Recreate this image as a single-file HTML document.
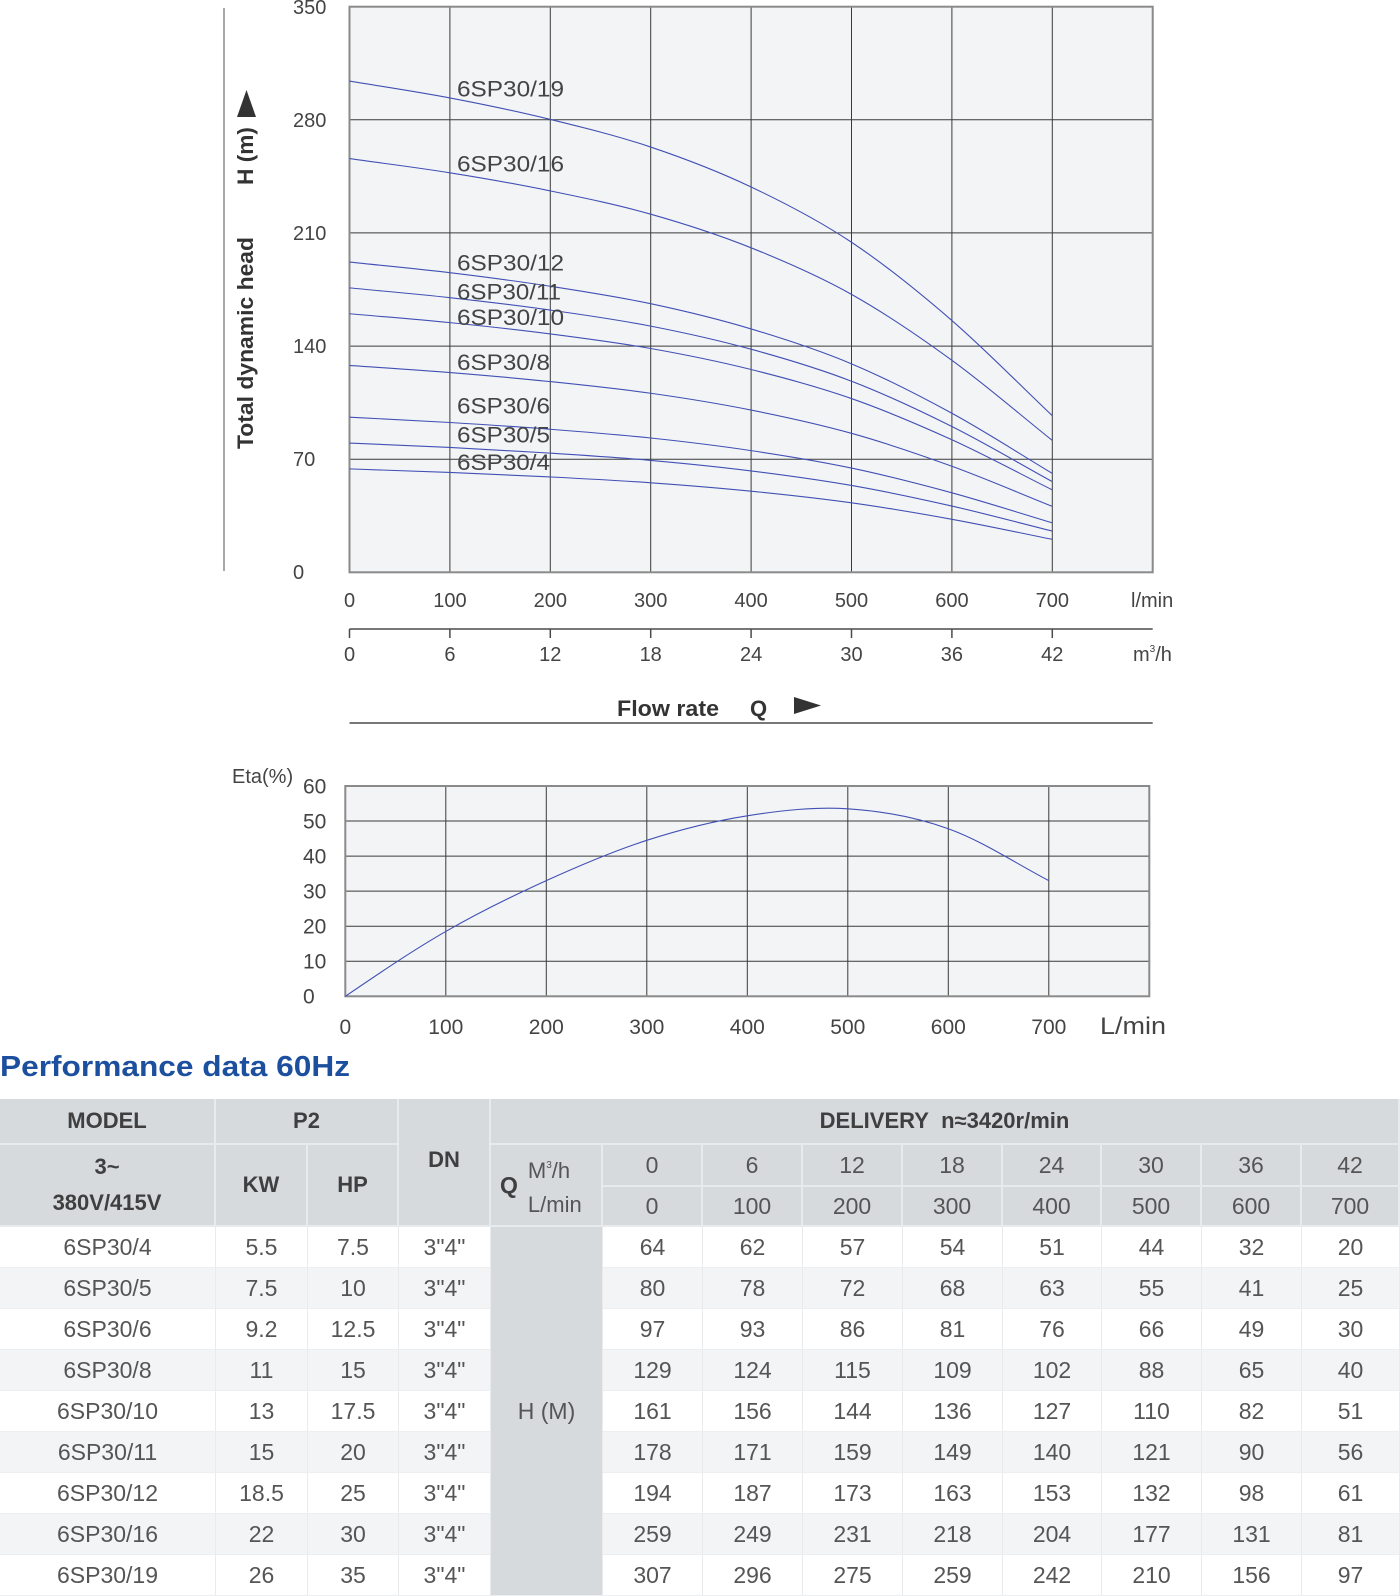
<!DOCTYPE html>
<html>
<head>
<meta charset="utf-8">
<style>
  html,body{margin:0;padding:0;background:#fff;}
  body{width:1400px;height:1596px;position:relative;overflow:hidden;font-family:"Liberation Sans",Arial,sans-serif;}
  svg{position:absolute;left:0;top:0;}
  .tbl{position:absolute;left:0;top:1099px;width:1400px;display:grid;
    grid-template-columns:216px 92px 91px 92px 112px 100px 100px 100px 100px 99px 100px 100px 98px;
    grid-template-rows:46px 42px 40px repeat(9,41px);}
  .c{box-sizing:border-box;display:flex;align-items:center;justify-content:center;
    border-right:1px solid #e9ebed;border-bottom:1px solid #eceef0;background:#fff;
    font-size:23px;color:#555;white-space:nowrap;}
  .h{background:#d6dadd;font-weight:bold;color:#3f3f3f;font-size:22px;
    border-right:2px solid #e8ebed;border-bottom:2px solid #e8ebed;}
  .hn{background:#d6dadd;color:#555;font-size:23px;font-weight:normal;
    border-right:2px solid #e8ebed;border-bottom:2px solid #e8ebed;}
  .r{display:contents;}
  .g>.c{background:#f3f4f5;}
  .hm{background:#d6dadd !important;border-right:1px solid #e9ebed;}
</style>
</head>
<body>
<svg width="1400" height="1099" viewBox="0 0 1400 1099" font-family="Liberation Sans, Arial, sans-serif">
  <!-- ===== HEAD CHART ===== -->
  <line x1="224" y1="8" x2="224" y2="571" stroke="#8c8c8c" stroke-width="1.5"/>
  <text transform="translate(253,343) rotate(-90)" text-anchor="middle" font-size="22" font-weight="bold" fill="#333" textLength="212" lengthAdjust="spacingAndGlyphs">Total dynamic head</text>
  <text transform="translate(253,156) rotate(-90)" text-anchor="middle" font-size="22" font-weight="bold" fill="#333" textLength="58" lengthAdjust="spacingAndGlyphs">H (m)</text>
  <polygon points="246.5,90 237,117 256,117" fill="#333"/>

  <rect x="349.5" y="6.7" width="803.2" height="565.6" fill="#f3f4f6"/>
  <g stroke="#3a3a3a" stroke-width="1">
    <line x1="449.9" y1="6.7" x2="449.9" y2="572.3"/>
    <line x1="550.3" y1="6.7" x2="550.3" y2="572.3"/>
    <line x1="650.7" y1="6.7" x2="650.7" y2="572.3"/>
    <line x1="751.1" y1="6.7" x2="751.1" y2="572.3"/>
    <line x1="851.5" y1="6.7" x2="851.5" y2="572.3"/>
    <line x1="951.9" y1="6.7" x2="951.9" y2="572.3"/>
    <line x1="1052.3" y1="6.7" x2="1052.3" y2="572.3"/>
    <line x1="349.5" y1="119.8" x2="1152.7" y2="119.8"/>
    <line x1="349.5" y1="232.9" x2="1152.7" y2="232.9"/>
    <line x1="349.5" y1="346.1" x2="1152.7" y2="346.1"/>
    <line x1="349.5" y1="459.2" x2="1152.7" y2="459.2"/>
  </g>
  <rect x="349.5" y="6.7" width="803.2" height="565.6" fill="none" stroke="#8a8a8a" stroke-width="2"/>

  <g fill="none" stroke="#4150b5" stroke-width="1.1">
    <path vector-effect="non-scaling-stroke" transform="translate(349.5 572.3) scale(1.004 6.464)" d="M0,-16 C33.33,-15.817 66.67,-15.658 100,-15.45 C133.33,-15.242 166.67,-15.017 200,-14.75 C233.33,-14.483 266.67,-14.217 300,-13.85 C333.33,-13.483 366.67,-13.067 400,-12.55 C433.33,-12.033 466.67,-11.475 500,-10.75 C533.33,-10.025 566.67,-9.142 600,-8.2 C633.33,-7.258 666.67,-6.133 700,-5.1"/>
    <path vector-effect="non-scaling-stroke" transform="translate(349.5 572.3) scale(1.004 8.08)" d="M0,-16 C33.33,-15.817 66.67,-15.658 100,-15.45 C133.33,-15.242 166.67,-15.017 200,-14.75 C233.33,-14.483 266.67,-14.217 300,-13.85 C333.33,-13.483 366.67,-13.067 400,-12.55 C433.33,-12.033 466.67,-11.475 500,-10.75 C533.33,-10.025 566.67,-9.142 600,-8.2 C633.33,-7.258 666.67,-6.133 700,-5.1"/>
    <path vector-effect="non-scaling-stroke" transform="translate(349.5 572.3) scale(1.004 9.696)" d="M0,-16 C33.33,-15.817 66.67,-15.658 100,-15.45 C133.33,-15.242 166.67,-15.017 200,-14.75 C233.33,-14.483 266.67,-14.217 300,-13.85 C333.33,-13.483 366.67,-13.067 400,-12.55 C433.33,-12.033 466.67,-11.475 500,-10.75 C533.33,-10.025 566.67,-9.142 600,-8.2 C633.33,-7.258 666.67,-6.133 700,-5.1"/>
    <path vector-effect="non-scaling-stroke" transform="translate(349.5 572.3) scale(1.004 12.928)" d="M0,-16 C33.33,-15.817 66.67,-15.658 100,-15.45 C133.33,-15.242 166.67,-15.017 200,-14.75 C233.33,-14.483 266.67,-14.217 300,-13.85 C333.33,-13.483 366.67,-13.067 400,-12.55 C433.33,-12.033 466.67,-11.475 500,-10.75 C533.33,-10.025 566.67,-9.142 600,-8.2 C633.33,-7.258 666.67,-6.133 700,-5.1"/>
    <path vector-effect="non-scaling-stroke" transform="translate(349.5 572.3) scale(1.004 16.16)" d="M0,-16 C33.33,-15.817 66.67,-15.658 100,-15.45 C133.33,-15.242 166.67,-15.017 200,-14.75 C233.33,-14.483 266.67,-14.217 300,-13.85 C333.33,-13.483 366.67,-13.067 400,-12.55 C433.33,-12.033 466.67,-11.475 500,-10.75 C533.33,-10.025 566.67,-9.142 600,-8.2 C633.33,-7.258 666.67,-6.133 700,-5.1"/>
    <path vector-effect="non-scaling-stroke" transform="translate(349.5 572.3) scale(1.004 17.776)" d="M0,-16 C33.33,-15.817 66.67,-15.658 100,-15.45 C133.33,-15.242 166.67,-15.017 200,-14.75 C233.33,-14.483 266.67,-14.217 300,-13.85 C333.33,-13.483 366.67,-13.067 400,-12.55 C433.33,-12.033 466.67,-11.475 500,-10.75 C533.33,-10.025 566.67,-9.142 600,-8.2 C633.33,-7.258 666.67,-6.133 700,-5.1"/>
    <path vector-effect="non-scaling-stroke" transform="translate(349.5 572.3) scale(1.004 19.392)" d="M0,-16 C33.33,-15.817 66.67,-15.658 100,-15.45 C133.33,-15.242 166.67,-15.017 200,-14.75 C233.33,-14.483 266.67,-14.217 300,-13.85 C333.33,-13.483 366.67,-13.067 400,-12.55 C433.33,-12.033 466.67,-11.475 500,-10.75 C533.33,-10.025 566.67,-9.142 600,-8.2 C633.33,-7.258 666.67,-6.133 700,-5.1"/>
    <path vector-effect="non-scaling-stroke" transform="translate(349.5 572.3) scale(1.004 25.856)" d="M0,-16 C33.33,-15.817 66.67,-15.658 100,-15.45 C133.33,-15.242 166.67,-15.017 200,-14.75 C233.33,-14.483 266.67,-14.217 300,-13.85 C333.33,-13.483 366.67,-13.067 400,-12.55 C433.33,-12.033 466.67,-11.475 500,-10.75 C533.33,-10.025 566.67,-9.142 600,-8.2 C633.33,-7.258 666.67,-6.133 700,-5.1"/>
    <path vector-effect="non-scaling-stroke" transform="translate(349.5 572.3) scale(1.004 30.704)" d="M0,-16 C33.33,-15.817 66.67,-15.658 100,-15.45 C133.33,-15.242 166.67,-15.017 200,-14.75 C233.33,-14.483 266.67,-14.217 300,-13.85 C333.33,-13.483 366.67,-13.067 400,-12.55 C433.33,-12.033 466.67,-11.475 500,-10.75 C533.33,-10.025 566.67,-9.142 600,-8.2 C633.33,-7.258 666.67,-6.133 700,-5.1"/>
  </g>

  <g font-size="22" fill="#444">
    <text x="457" y="96.7" textLength="107" lengthAdjust="spacingAndGlyphs">6SP30/19</text>
    <text x="457" y="171.7" textLength="107" lengthAdjust="spacingAndGlyphs">6SP30/16</text>
    <text x="457" y="270.7" textLength="107" lengthAdjust="spacingAndGlyphs">6SP30/12</text>
    <text x="457" y="299.3" textLength="104" lengthAdjust="spacingAndGlyphs">6SP30/11</text>
    <text x="457" y="325" textLength="107" lengthAdjust="spacingAndGlyphs">6SP30/10</text>
    <text x="457" y="370" textLength="93" lengthAdjust="spacingAndGlyphs">6SP30/8</text>
    <text x="457" y="413.3" textLength="93" lengthAdjust="spacingAndGlyphs">6SP30/6</text>
    <text x="457" y="442.3" textLength="93" lengthAdjust="spacingAndGlyphs">6SP30/5</text>
    <text x="457" y="470" textLength="93" lengthAdjust="spacingAndGlyphs">6SP30/4</text>
  </g>

  <g font-size="20" fill="#444">
    <text x="293" y="14">350</text>
    <text x="293" y="127">280</text>
    <text x="293" y="240">210</text>
    <text x="293" y="353">140</text>
    <text x="293" y="466">70</text>
    <text x="293" y="579">0</text>
  </g>

  <g font-size="20" fill="#444" text-anchor="middle">
    <text x="349.5" y="607">0</text>
    <text x="449.9" y="607">100</text>
    <text x="550.3" y="607">200</text>
    <text x="650.7" y="607">300</text>
    <text x="751.1" y="607">400</text>
    <text x="851.5" y="607">500</text>
    <text x="951.9" y="607">600</text>
    <text x="1052.3" y="607">700</text>
    <text x="349.5" y="661">0</text>
    <text x="449.9" y="661">6</text>
    <text x="550.3" y="661">12</text>
    <text x="650.7" y="661">18</text>
    <text x="751.1" y="661">24</text>
    <text x="851.5" y="661">30</text>
    <text x="951.9" y="661">36</text>
    <text x="1052.3" y="661">42</text>
  </g>
  <text x="1131" y="607" font-size="20" fill="#444">l/min</text>
  <text x="1133" y="661" font-size="20" fill="#444">m<tspan font-size="10" dy="-9">3</tspan><tspan dy="9">/h</tspan></text>

  <g stroke="#4a4a4a" stroke-width="1.5">
    <line x1="349.5" y1="629" x2="1152.7" y2="629"/>
    <line x1="349.5" y1="629" x2="349.5" y2="638"/>
    <line x1="449.9" y1="629" x2="449.9" y2="638"/>
    <line x1="550.3" y1="629" x2="550.3" y2="638"/>
    <line x1="650.7" y1="629" x2="650.7" y2="638"/>
    <line x1="751.1" y1="629" x2="751.1" y2="638"/>
    <line x1="851.5" y1="629" x2="851.5" y2="638"/>
    <line x1="951.9" y1="629" x2="951.9" y2="638"/>
    <line x1="1052.3" y1="629" x2="1052.3" y2="638"/>
    <line x1="349.5" y1="723" x2="1152.7" y2="723"/>
  </g>
  <text x="617" y="716" font-size="22" font-weight="bold" fill="#333" textLength="102" lengthAdjust="spacingAndGlyphs">Flow rate</text>
  <text x="750" y="716" font-size="22" font-weight="bold" fill="#333">Q</text>
  <polygon points="794,697 794,714 821,705.5" fill="#333"/>

  <!-- ===== ETA CHART ===== -->
  <text x="232" y="783" font-size="20" fill="#444">Eta(%)</text>
  <rect x="345.3" y="786" width="804" height="210.3" fill="#f3f4f6"/>
  <g stroke="#3a3a3a" stroke-width="1">
    <line x1="445.8" y1="786" x2="445.8" y2="996.3"/>
    <line x1="546.3" y1="786" x2="546.3" y2="996.3"/>
    <line x1="646.8" y1="786" x2="646.8" y2="996.3"/>
    <line x1="747.3" y1="786" x2="747.3" y2="996.3"/>
    <line x1="847.8" y1="786" x2="847.8" y2="996.3"/>
    <line x1="948.3" y1="786" x2="948.3" y2="996.3"/>
    <line x1="1048.8" y1="786" x2="1048.8" y2="996.3"/>
    <line x1="345.3" y1="821.05" x2="1149.3" y2="821.05"/>
    <line x1="345.3" y1="856.1" x2="1149.3" y2="856.1"/>
    <line x1="345.3" y1="891.15" x2="1149.3" y2="891.15"/>
    <line x1="345.3" y1="926.2" x2="1149.3" y2="926.2"/>
    <line x1="345.3" y1="961.25" x2="1149.3" y2="961.25"/>
  </g>
  <rect x="345.3" y="786" width="804" height="210.3" fill="none" stroke="#8a8a8a" stroke-width="2"/>
  <path fill="none" stroke="#4150b5" stroke-width="1.1" vector-effect="non-scaling-stroke" transform="translate(345.3 996.3) scale(1.005 3.505)" d="M0,0 C33.33,-6.5 66.67,-13 100,-18.5 C133.33,-24 166.67,-28.667 200,-33 C233.33,-37.333 266.67,-41.417 300,-44.5 C333.33,-47.583 366.67,-50 400,-51.5 C433.33,-53 466.67,-54.117 500,-53.5 C533.33,-52.883 566.67,-51.217 600,-47.8 C633.33,-44.383 666.67,-38 700,-33"/>

  <g font-size="21" fill="#444">
    <text x="303" y="793.5">60</text>
    <text x="303" y="828.5">50</text>
    <text x="303" y="863.5">40</text>
    <text x="303" y="898.5">30</text>
    <text x="303" y="933.5">20</text>
    <text x="303" y="968.5">10</text>
    <text x="303" y="1003.5">0</text>
  </g>
  <g font-size="21" fill="#444" text-anchor="middle">
    <text x="345.3" y="1034">0</text>
    <text x="445.8" y="1034">100</text>
    <text x="546.3" y="1034">200</text>
    <text x="646.8" y="1034">300</text>
    <text x="747.3" y="1034">400</text>
    <text x="847.8" y="1034">500</text>
    <text x="948.3" y="1034">600</text>
    <text x="1048.8" y="1034">700</text>
  </g>
  <text x="1100" y="1034" font-size="24" fill="#444" textLength="66" lengthAdjust="spacingAndGlyphs">L/min</text>

  <!-- ===== TITLE ===== -->
  <text x="0" y="1076" font-size="29" font-weight="bold" fill="#1d4f9f" textLength="350" lengthAdjust="spacingAndGlyphs">Performance data 60Hz</text>
</svg>

<div class="tbl">
  <!-- header row 1 -->
  <div class="c h">MODEL</div>
  <div class="c h" style="grid-column:span 2">P2</div>
  <div class="c h" style="grid-row:span 3;padding-bottom:4px">DN</div>
  <div class="c h" style="grid-column:span 9">DELIVERY&nbsp;&nbsp;n≈3420r/min</div>
  <!-- header row 2 -->
  <div class="c h" style="grid-row:span 2;flex-direction:column;line-height:36px;text-align:center">
    <span style="display:block;text-align:center">3~</span>
    <span style="display:block;text-align:center">380V/415V</span>
  </div>
  <div class="c h" style="grid-row:span 2">KW</div>
  <div class="c h" style="grid-row:span 2">HP</div>
  <div class="c h" style="grid-row:span 2;justify-content:flex-start;padding-left:9px">
    <span style="font-size:23px;margin-right:10px">Q</span>
    <span style="display:flex;flex-direction:column;line-height:34px;font-weight:normal;color:#555;font-size:22px">
      <span>M<sup style="font-size:10px;vertical-align:10px">3</sup>/h</span><span>L/min</span>
    </span>
  </div>
  <div class="c hn">0</div><div class="c hn">6</div><div class="c hn">12</div><div class="c hn">18</div><div class="c hn">24</div><div class="c hn">30</div><div class="c hn">36</div><div class="c hn">42</div>
  <!-- header row 3 -->
  <div class="c hn">0</div><div class="c hn">100</div><div class="c hn">200</div><div class="c hn">300</div><div class="c hn">400</div><div class="c hn">500</div><div class="c hn">600</div><div class="c hn">700</div>

  <!-- data -->
  <div class="r">
    <div class="c">6SP30/4</div><div class="c">5.5</div><div class="c">7.5</div><div class="c">3"4"</div>
    <div class="c hm" style="grid-row:span 9">H (M)</div>
    <div class="c">64</div><div class="c">62</div><div class="c">57</div><div class="c">54</div><div class="c">51</div><div class="c">44</div><div class="c">32</div><div class="c">20</div>
  </div>
  <div class="r g">
    <div class="c">6SP30/5</div><div class="c">7.5</div><div class="c">10</div><div class="c">3"4"</div>
    <div class="c">80</div><div class="c">78</div><div class="c">72</div><div class="c">68</div><div class="c">63</div><div class="c">55</div><div class="c">41</div><div class="c">25</div>
  </div>
  <div class="r">
    <div class="c">6SP30/6</div><div class="c">9.2</div><div class="c">12.5</div><div class="c">3"4"</div>
    <div class="c">97</div><div class="c">93</div><div class="c">86</div><div class="c">81</div><div class="c">76</div><div class="c">66</div><div class="c">49</div><div class="c">30</div>
  </div>
  <div class="r g">
    <div class="c">6SP30/8</div><div class="c">11</div><div class="c">15</div><div class="c">3"4"</div>
    <div class="c">129</div><div class="c">124</div><div class="c">115</div><div class="c">109</div><div class="c">102</div><div class="c">88</div><div class="c">65</div><div class="c">40</div>
  </div>
  <div class="r">
    <div class="c">6SP30/10</div><div class="c">13</div><div class="c">17.5</div><div class="c">3"4"</div>
    <div class="c">161</div><div class="c">156</div><div class="c">144</div><div class="c">136</div><div class="c">127</div><div class="c">110</div><div class="c">82</div><div class="c">51</div>
  </div>
  <div class="r g">
    <div class="c">6SP30/11</div><div class="c">15</div><div class="c">20</div><div class="c">3"4"</div>
    <div class="c">178</div><div class="c">171</div><div class="c">159</div><div class="c">149</div><div class="c">140</div><div class="c">121</div><div class="c">90</div><div class="c">56</div>
  </div>
  <div class="r">
    <div class="c">6SP30/12</div><div class="c">18.5</div><div class="c">25</div><div class="c">3"4"</div>
    <div class="c">194</div><div class="c">187</div><div class="c">173</div><div class="c">163</div><div class="c">153</div><div class="c">132</div><div class="c">98</div><div class="c">61</div>
  </div>
  <div class="r g">
    <div class="c">6SP30/16</div><div class="c">22</div><div class="c">30</div><div class="c">3"4"</div>
    <div class="c">259</div><div class="c">249</div><div class="c">231</div><div class="c">218</div><div class="c">204</div><div class="c">177</div><div class="c">131</div><div class="c">81</div>
  </div>
  <div class="r">
    <div class="c">6SP30/19</div><div class="c">26</div><div class="c">35</div><div class="c">3"4"</div>
    <div class="c">307</div><div class="c">296</div><div class="c">275</div><div class="c">259</div><div class="c">242</div><div class="c">210</div><div class="c">156</div><div class="c">97</div>
  </div>
</div>
</body>
</html>
